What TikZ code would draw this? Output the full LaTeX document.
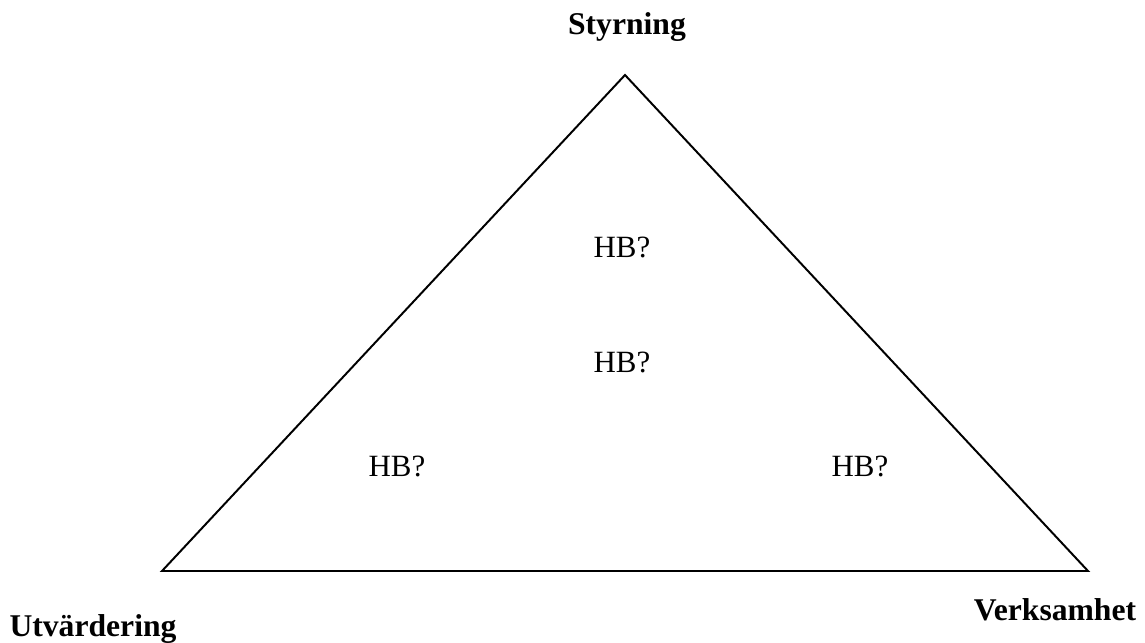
\documentclass[tikz,border=0pt]{standalone}
\usepackage{fontspec}
\setmainfont{Liberation Serif}
\usepackage{tikz}
\usetikzlibrary{positioning}

\begin{document}
\begin{tikzpicture}[x=0.025cm,y=-0.025cm,
        hb/.style={font=\fontsize{22}{26}\selectfont},
        corner/.style={font=\fontsize{22.5}{27}\selectfont\bfseries}]
        \useasboundingbox (0,0) rectangle (1145,643);

        \coordinate (T) at (625,75);
        \coordinate (L) at (162,571);
        \coordinate (R) at (1088,571);

        \node[corner] (S) at (627,27) {Styrning};
        \node[corner] (U) at (93,629) {Utvärdering};
        \node[corner] (V) at (1055,610) {Verksamhet};

        \node[hb] (HB1) at (622,247) {HB?};
        \node[hb] (HB2) at (622,362) {HB?};
        \node[hb] (HB3) at (397,466) {HB?};
        \node[hb] (HB4) at (860,466) {HB?};

        \draw[line width=1.4pt] (T) -- (R) -- (L) -- cycle;
      \end{tikzpicture}
\end{document}
